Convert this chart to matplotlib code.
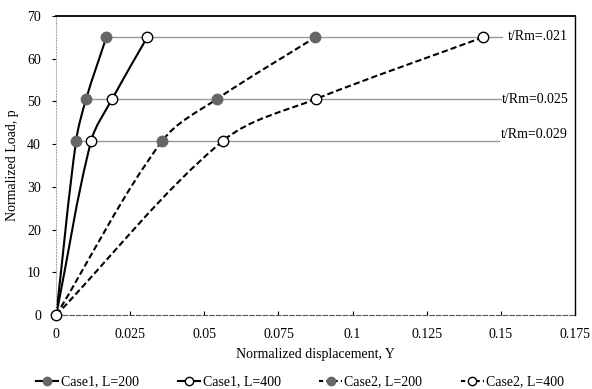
import math
import matplotlib.pyplot as plt
from matplotlib.path import Path
from matplotlib.patches import PathPatch
from matplotlib.lines import Line2D

plt.rcParams['font.family'] = ['Liberation Serif', 'DejaVu Serif']

loads = [0, 40.8, 50.6, 65]
case1_l200 = [0, 0.0067, 0.0101, 0.0169]
case1_l400 = [0, 0.0118, 0.0189, 0.0307]
case2_l200 = [0, 0.0358, 0.0543, 0.0874]
case2_l400 = [0, 0.0563, 0.0877, 0.1440]

ref_loads = [65, 50.6, 40.8]
ref_labels = ['t/Rm=.021', 't/Rm=0.025', 't/Rm=0.029']
ref_start = [0.0169, 0.0090, 0.0067]
ref_end = [0.1505, 0.1500, 0.1495]
label_x = [0.1523, 0.1504, 0.1500]
label_y = [65.2, 50.5, 42.2]

XMAX, YMAX = 0.175, 70


def smooth_path(xs, ys, sx, sy):
    # smoothed line through every point, worked out in screen-like space
    px = [x / XMAX * sx for x in xs]
    py = [y / YMAX * sy for y in ys]
    n = len(px)
    tang = []
    for i in range(n):
        a = max(i - 1, 0)
        b = min(i + 1, n - 1)
        dx, dy = px[b] - px[a], py[b] - py[a]
        d = math.hypot(dx, dy)
        tang.append((dx / d, dy / d))
    verts = [(xs[0], ys[0])]
    codes = [Path.MOVETO]
    for i in range(n - 1):
        seg = math.hypot(px[i + 1] - px[i], py[i + 1] - py[i]) / 3
        c1 = (px[i] + tang[i][0] * seg, py[i] + tang[i][1] * seg)
        c2 = (px[i + 1] - tang[i + 1][0] * seg, py[i + 1] - tang[i + 1][1] * seg)
        verts += [(c1[0] / sx * XMAX, c1[1] / sy * YMAX),
                  (c2[0] / sx * XMAX, c2[1] / sy * YMAX),
                  (xs[i + 1], ys[i + 1])]
        codes += [Path.CURVE4] * 3
    return Path(verts, codes)


fig = plt.figure(figsize=(5.92, 3.89), dpi=100)
ax = fig.add_axes([0.095, 0.19, 0.876, 0.769])
sx, sy = 0.876 * 592, 0.769 * 389

# thin gray reference lines for each wall-thickness ratio
for y, x0, x1, lx, ly, lab in zip(ref_loads, ref_start, ref_end, label_x, label_y, ref_labels):
    ax.plot([x0, x1], [y, y], color='#9a9a9a', lw=1.0, zorder=1)
    ax.text(lx, ly, lab, fontsize=10, ha='left', va='center')

gray = '#666666'
series = [
    (case1_l200, '-', gray, gray, 'Case1, L=200'),
    (case1_l400, '-', 'white', 'black', 'Case1, L=400'),
    (case2_l200, '--', gray, gray, 'Case2, L=200'),
    (case2_l400, '--', 'white', 'black', 'Case2, L=400'),
]
handles = []
for xs, ls, fc, ec, lab in series:
    patch = PathPatch(smooth_path(xs, loads, sx, sy), facecolor='none',
                      edgecolor='black', lw=1.5, zorder=2)
    if ls == '--':
        patch.set_linestyle((0, (3, 1.5)))
    ax.add_patch(patch)
    ax.plot(xs[1:], loads[1:], ls='none', marker='o', ms=7.5, mfc=fc, mec=ec, zorder=3)
    h = Line2D([], [], color='black', ls=ls, lw=1.5, marker='o', ms=6,
               mfc=fc, mec=ec, label=lab)
    if ls == '--':
        h.set_dashes((2, 1.5))
    handles.append(h)

# open marker at origin sits on top
ax.plot([0], [0], 'o', ms=7.5, mfc='white', mec='black', zorder=4, clip_on=False)

ax.set_xlim(0, XMAX)
ax.set_ylim(0, YMAX)
ax.set_xticks([0, 0.025, 0.05, 0.075, 0.1, 0.125, 0.15, 0.175])
ax.set_xticklabels(['0', '0.025', '0.05', '0.075', '0.1', '0.125', '0.15', '0.175'])
ax.set_yticks(range(0, 71, 10))
ax.tick_params(axis='both', labelsize=10, length=3, width=0.8)
ax.tick_params(axis='x', direction='in', pad=9)
ax.tick_params(axis='y', direction='out', pad=8)

ax.spines['left'].set_color('#aaaaaa')
ax.spines['left'].set_linestyle(':')
ax.spines['bottom'].set_color('#555555')
ax.spines['bottom'].set_linestyle((0, (4, 2)))
ax.spines['top'].set_linewidth(1.3)
ax.spines['right'].set_linewidth(1.0)

ax.set_xlabel('Normalized displacement, Y', fontsize=10, labelpad=5)
ax.set_ylabel('Normalized Load, p', fontsize=10, labelpad=6)

ax.legend(handles=handles, loc='upper center', bbox_to_anchor=(0.47, -0.16), ncol=4,
          frameon=False, fontsize=10, handlelength=1.6, handletextpad=0.2,
          columnspacing=2.8)

fig.savefig('out.png', dpi=100)
